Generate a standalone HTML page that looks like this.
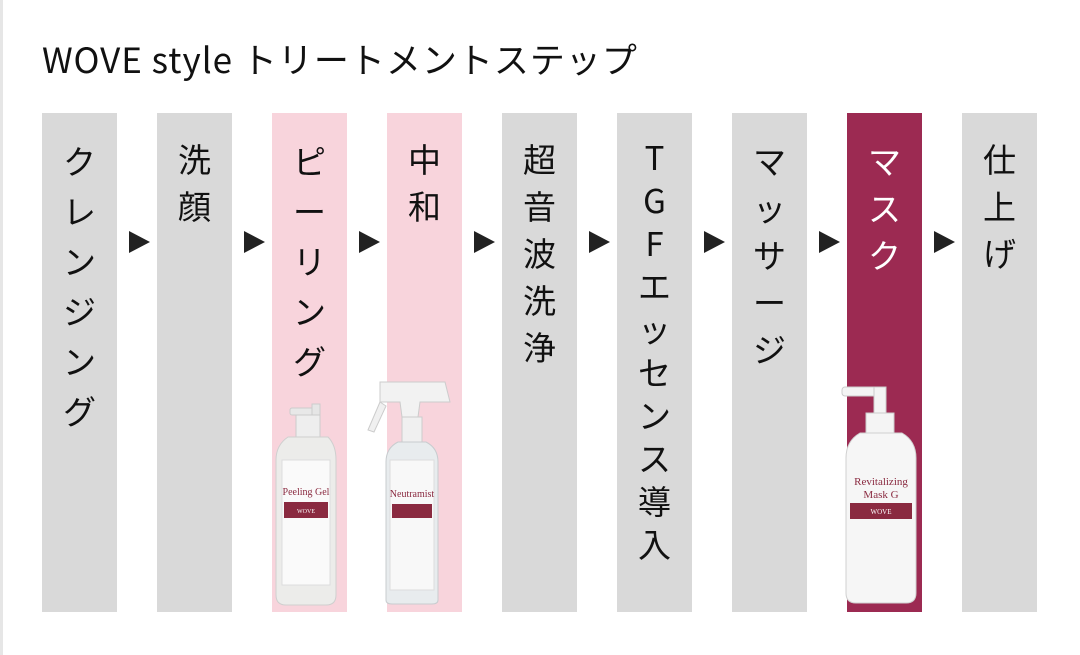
<!DOCTYPE html>
<html><head><meta charset="utf-8"><style>
body{margin:0;width:1080px;height:655px;background:#fff;position:relative;overflow:hidden;font-family:"Noto Sans CJK JP","Liberation Sans",sans-serif;}
.edge{position:absolute;left:0;top:0;width:3px;height:655px;background:#e6e6e6}
.title{position:absolute;left:42px;top:33px;font-size:35px;line-height:52px;letter-spacing:1px;color:#111;white-space:nowrap;font-family:"Noto Sans CJK JP",sans-serif}
.col{position:absolute;top:113px;width:75px;height:499px;background:#d9d9d9}
.col .t{position:absolute;top:134px;left:0;width:75px;text-align:center;font-size:33px;line-height:47px;color:#111}
.col .t span{display:block}
.pink{background:#f8d4dc}
.mask{background:#9c2a52}
.mask .t{color:#fff}
.arr{position:absolute;top:231px;width:0;height:0;border-top:11px solid transparent;border-bottom:11px solid transparent;border-left:21px solid #222}
svg{position:absolute}
</style></head><body>
<div class="edge"></div>
<div class="title">WOVE style トリートメントステップ</div>

<div class="col" style="left:42px"><div class="t" style="top:22px;line-height:50px"><span>ク</span><span>レ</span><span>ン</span><span>ジ</span><span>ン</span><span>グ</span></div></div>
<div class="col" style="left:157px"><div class="t" style="top:22px"><span>洗</span><span>顔</span></div></div>
<div class="col pink" style="left:272px"><div class="t" style="top:22px;line-height:50px"><span>ピ</span><span>ー</span><span>リ</span><span>ン</span><span>グ</span></div></div>
<div class="col pink" style="left:387px"><div class="t" style="top:22px"><span>中</span><span>和</span></div></div>
<div class="col" style="left:502px"><div class="t" style="top:22px"><span>超</span><span>音</span><span>波</span><span>洗</span><span>浄</span></div></div>
<div class="col" style="left:617px"><div class="t" style="top:22px;line-height:43px"><span>T</span><span>G</span><span>F</span><span>エ</span><span>ッ</span><span>セ</span><span>ン</span><span>ス</span><span>導</span><span>入</span></div></div>
<div class="col" style="left:732px"><div class="t" style="top:24px;line-height:47px"><span>マ</span><span>ッ</span><span>サ</span><span>ー</span><span>ジ</span></div></div>
<div class="col mask" style="left:847px"><div class="t" style="top:24px;line-height:47px"><span>マ</span><span>ス</span><span>ク</span></div></div>
<div class="col" style="left:962px"><div class="t" style="top:22px"><span>仕</span><span>上</span><span>げ</span></div></div>

<div class="arr" style="left:129px"></div>
<div class="arr" style="left:244px"></div>
<div class="arr" style="left:359px"></div>
<div class="arr" style="left:474px"></div>
<div class="arr" style="left:589px"></div>
<div class="arr" style="left:704px"></div>
<div class="arr" style="left:819px"></div>
<div class="arr" style="left:934px"></div>

<!-- Peeling gel bottle -->
<svg style="left:270px;top:400px" width="82" height="210" viewBox="0 0 82 210">
<rect x="20" y="8" width="30" height="7" rx="2" fill="#e8e8e8" stroke="#ccc"/>
<rect x="42" y="4" width="8" height="26" fill="#e6e6e6" stroke="#ccc"/>
<rect x="26" y="15" width="24" height="22" fill="#eee" stroke="#ccc"/>
<path d="M18 37 H58 Q66 45 66 60 V195 Q66 205 56 205 H16 Q6 205 6 195 V60 Q6 45 18 37Z" fill="#ececea" stroke="#cfcfcf"/>
<rect x="12" y="60" width="48" height="125" fill="#fafafa" stroke="#ddd"/>
<text x="36" y="95" font-size="10" text-anchor="middle" fill="#8a2a40" font-family="Liberation Serif,serif">Peeling Gel</text>
<rect x="14" y="102" width="44" height="16" fill="#8a2a40"/>
<text x="36" y="113" font-size="6" text-anchor="middle" fill="#fff" font-family="Liberation Serif,serif">WOVE</text>
</svg>
<!-- Neutramist -->
<svg style="left:360px;top:372px" width="105" height="240" viewBox="0 0 105 240">
<path d="M20 10 H85 L90 30 H60 L58 45 H42 L40 30 H20 Z" fill="#f2f2f2" stroke="#ccc"/>
<path d="M20 30 L8 58 L14 60 L26 34Z" fill="#f0f0f0" stroke="#ccc"/>
<rect x="42" y="45" width="20" height="25" fill="#f0f0f0" stroke="#ccc"/>
<path d="M38 70 H66 Q78 76 78 90 V228 Q78 232 72 232 H32 Q26 232 26 228 V90 Q26 76 38 70Z" fill="#e8ecee" stroke="#c8cccf"/>
<rect x="30" y="88" width="44" height="130" fill="#f8f8f8" stroke="#ddd"/>
<text x="52" y="125" font-size="10" text-anchor="middle" fill="#8a2a40" font-family="Liberation Serif,serif">Neutramist</text>
<rect x="32" y="132" width="40" height="14" fill="#8a2a40"/>
</svg>
<!-- Mask -->
<svg style="left:836px;top:383px" width="90" height="225" viewBox="0 0 90 225">
<rect x="6" y="4" width="40" height="9" rx="3" fill="#f4f4f4" stroke="#ccc"/>
<rect x="38" y="4" width="12" height="28" fill="#f4f4f4" stroke="#ccc"/>
<rect x="30" y="30" width="28" height="20" fill="#f4f4f4" stroke="#ccc"/>
<path d="M24 50 H66 Q80 58 80 75 V210 Q80 220 70 220 H20 Q10 220 10 210 V75 Q10 58 24 50Z" fill="#f6f6f6" stroke="#d0d0d0"/>
<text x="45" y="102" font-size="11" text-anchor="middle" fill="#8a2a40" font-family="Liberation Serif,serif">Revitalizing</text>
<text x="45" y="115" font-size="11" text-anchor="middle" fill="#8a2a40" font-family="Liberation Serif,serif">Mask G</text>
<rect x="14" y="120" width="62" height="16" fill="#8a2a40"/>
<text x="45" y="131" font-size="7" text-anchor="middle" fill="#fff" font-family="Liberation Serif,serif">WOVE</text>
</svg>
</body></html>
